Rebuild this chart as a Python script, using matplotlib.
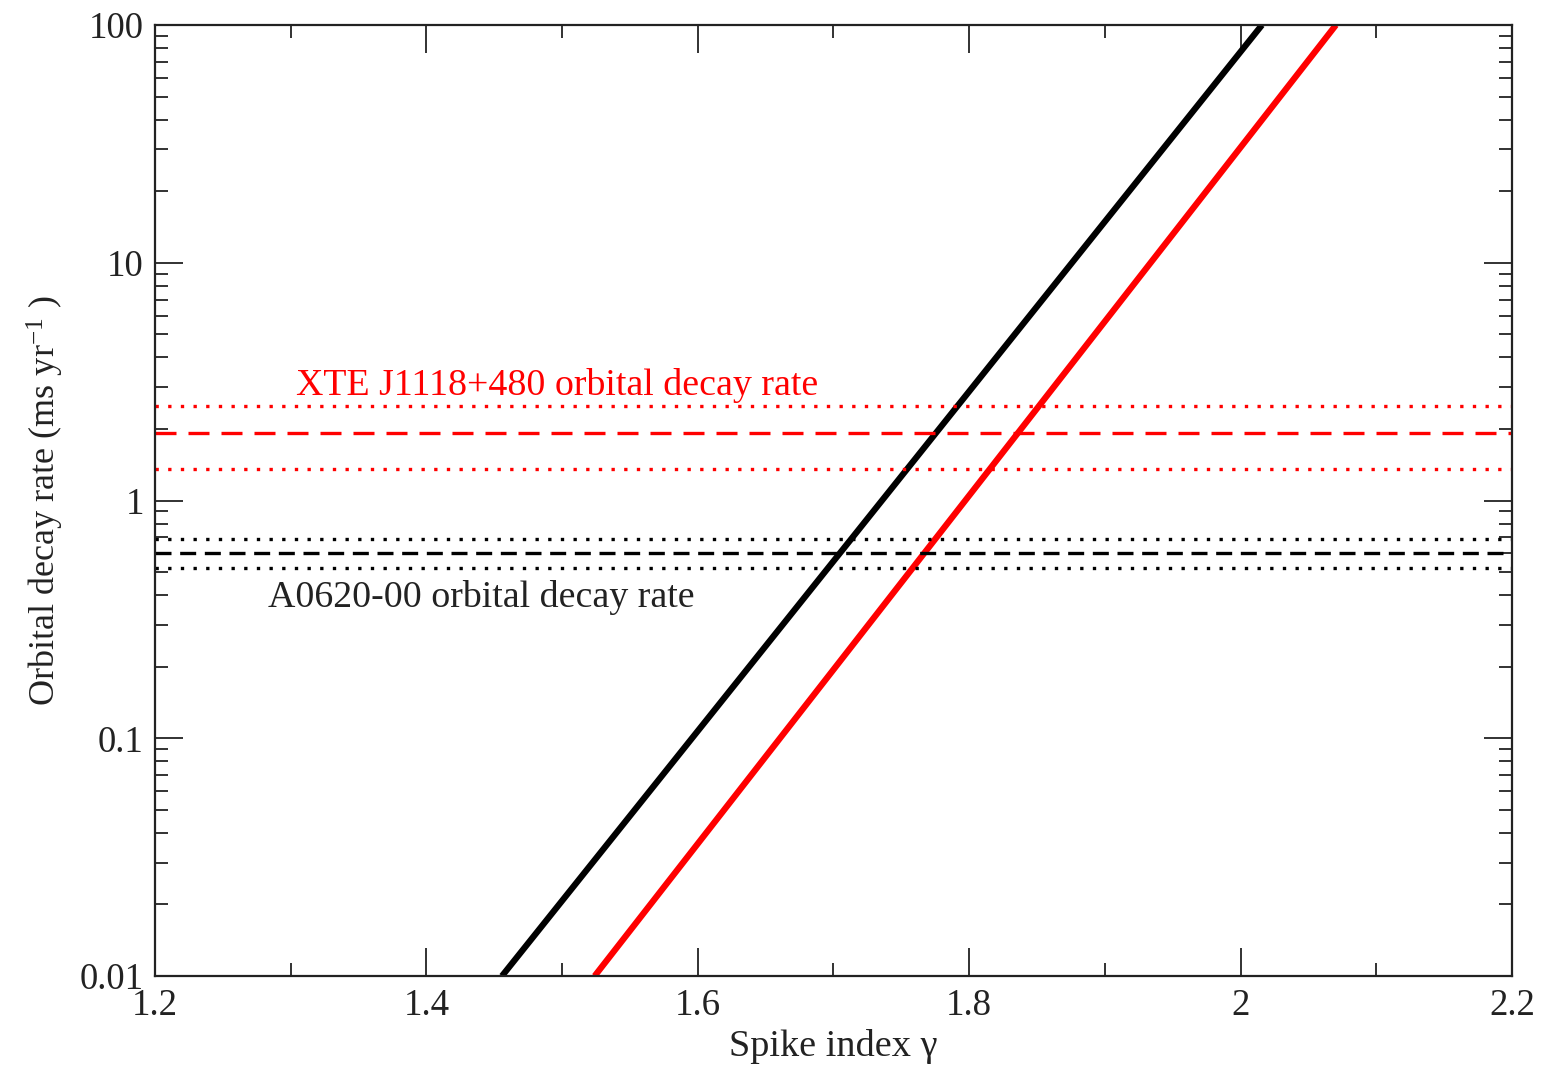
import matplotlib
matplotlib.use("Agg")
import matplotlib.pyplot as plt
from matplotlib.ticker import FixedLocator, LogLocator, MultipleLocator, FuncFormatter

plt.rcParams["font.family"] = ["Liberation Serif", "DejaVu Serif"]
plt.rcParams["mathtext.fontset"] = "custom"
plt.rcParams["mathtext.rm"] = "Liberation Serif"
plt.rcParams["mathtext.it"] = "Liberation Serif:italic"

a0620_gamma = [1.4557, 2.0158]
a0620_rate = [0.01, 100]
xte_gamma = [1.524, 2.0703]
xte_rate = [0.01, 100]

# observed decay rates: (central, upper, lower)
xte_obs = [1.92, 2.50, 1.357]
a0620_obs = [0.601, 0.689, 0.52]

x_range = [1.2, 2.2]
y_range = [0.01, 100]
y_ticks = [0.01, 0.1, 1, 10, 100]

fig = plt.figure(figsize=(15.45, 10.68), dpi=100)
ax = fig.add_axes([0.1003, 0.0861, 0.8783, 0.8905])
ax.set_yscale("log")

ax.plot(a0620_gamma, a0620_rate, color="black", lw=4.5, solid_capstyle="butt")
ax.plot(xte_gamma, xte_rate, color="#ff0000", lw=4.5, solid_capstyle="butt")

dot = dict(lw=2.4, dash_capstyle="butt")
ax.plot(x_range, [xte_obs[0]] * 2, color="#ff0000", dashes=(6.3, 3.6), **dot)
ax.plot(x_range, [xte_obs[1]] * 2, color="#ff0000", dashes=(1, 2.8), **dot)
ax.plot(x_range, [xte_obs[2]] * 2, color="#ff0000", dashes=(1, 2.8), **dot)
ax.plot(x_range, [a0620_obs[0]] * 2, color="black", dashes=(4.8, 2.6), **dot)
ax.plot(x_range, [a0620_obs[1]] * 2, color="black", dashes=(1, 2.8), **dot)
ax.plot(x_range, [a0620_obs[2]] * 2, color="black", dashes=(1, 2.8), **dot)

ax.text(1.304, 2.78, "XTE J1118+480 orbital decay rate", color="#ff0000",
        fontsize=27.3, ha="left", va="baseline")
ax.text(1.283, 0.356, "A0620-00 orbital decay rate", color="#222222",
        fontsize=27.3, ha="left", va="baseline")

ax.set_xlim(*x_range)
ax.set_ylim(*y_range)

ax.xaxis.set_major_locator(MultipleLocator(0.2))
ax.xaxis.set_minor_locator(MultipleLocator(0.1))
ax.xaxis.set_major_formatter(FuncFormatter(lambda v, p: f"{v:g}"))
ax.yaxis.set_major_locator(FixedLocator(y_ticks))
ax.yaxis.set_minor_locator(LogLocator(base=10, subs=range(2, 10)))
ax.yaxis.set_major_formatter(FuncFormatter(lambda v, p: f"{v:g}"))

ax.tick_params(which="both", direction="in", top=True, right=True, width=1.3,
               colors="#222222", labelsize=26.5)
ax.tick_params(which="major", length=20)
ax.tick_params(which="minor", length=9.5)
ax.tick_params(axis="x", pad=9)
ax.tick_params(axis="y", pad=8)
for s in ax.spines.values():
    s.set_linewidth(1.6)
    s.set_color("#222222")

ax.set_xlabel("Spike index γ", fontsize=27.5, labelpad=4, color="#222222")
ax.set_ylabel(r"Orbital decay rate (ms yr$^{\mathrm{-1}}$ )", fontsize=26,
              labelpad=10, color="#222222")

fig.savefig("out.png", dpi=100)
